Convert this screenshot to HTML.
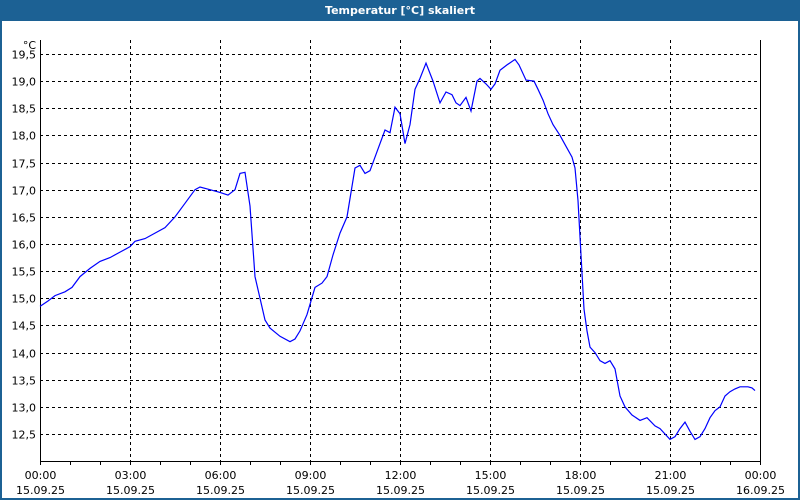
<!DOCTYPE html>
<html><head><meta charset="utf-8"><style>
html,body{margin:0;padding:0;background:#fff}
svg{display:block}
text{font-family:"DejaVu Sans","Liberation Sans",sans-serif;font-size:11px;fill:#000}
</style></head><body>
<svg id="s" width="800" height="500" xmlns="http://www.w3.org/2000/svg">
<rect x="0" y="0" width="800" height="500" fill="#1c6194"/>
<rect x="2" y="21" width="796" height="477" fill="#fff"/>
<text x="400" y="14" text-anchor="middle" style="fill:#fff;font-weight:bold;font-size:11px">Temperatur [°C] skaliert</text>
<g id="g"></g>
</svg>
<script>
var g=document.getElementById('g'),h='';
function Y(v){return 54+(19.5-v)*380/7;}
for(var i=0;i<15;i++){var v=12.5+i*0.5,y=Math.round(Y(v))+0.5;
h+='<line x1="40" x2="760" y1="'+y+'" y2="'+y+'" stroke="#000" stroke-dasharray="3,3"/>';
h+='<text x="36" y="'+(y+4)+'" text-anchor="end">'+v.toFixed(1).replace('.',',')+'</text>';}
h+='<text x="36" y="49" text-anchor="end">°C</text>';
var lab=['00:00','03:00','06:00','09:00','12:00','15:00','18:00','21:00','00:00'];
for(var i=0;i<=8;i++){var x=40+i*90+0.5;
if(i>0&&i<8)h+='<line x1="'+x+'" x2="'+x+'" y1="40" y2="461" stroke="#000" stroke-dasharray="3,3"/>';
h+='<text x="'+x+'" y="479" text-anchor="middle">'+lab[i]+'</text>';
h+='<text x="'+x+'" y="494" text-anchor="middle">'+(i==8?'16.09.25':'15.09.25')+'</text>';}
for(var i=0;i<=24;i++){var x=40+i*30+0.5;h+='<line x1="'+x+'" x2="'+x+'" y1="461" y2="465" stroke="#000"/>';}
h+='<path d="M40.5 40V461.5H760.5V40" fill="none" stroke="#000"/>';
var d=[[40,14.85],[48,14.95],[55,15.05],[65,15.12],[72,15.2],[80,15.4],[90,15.55],[100,15.68],[110,15.75],[120,15.85],[130,15.95],[135,16.05],[145,16.1],[155,16.2],[165,16.3],[175,16.5],[185,16.75],[195,17.0],[200,17.05],[210,17.0],[220,16.95],[228,16.9],[235,17.0],[240,17.3],[245,17.32],[250,16.7],[255,15.4],[260,15.0],[265,14.6],[270,14.45],[280,14.3],[290,14.2],[295,14.25],[300,14.4],[307,14.7],[315,15.2],[322,15.28],[327,15.4],[333,15.8],[340,16.2],[347,16.5],[355,17.4],[360,17.45],[365,17.3],[370,17.35],[377,17.7],[385,18.1],[390,18.05],[395,18.52],[400,18.4],[405,17.85],[410,18.2],[415,18.85],[420,19.05],[426,19.33],[433,19.0],[440,18.6],[446,18.8],[452,18.75],[456,18.6],[460,18.55],[466,18.7],[471,18.45],[477,19.0],[480,19.05],[486,18.95],[491,18.85],[495,18.95],[500,19.2],[507,19.3],[515,19.4],[519,19.3],[526,19.02],[534,19.0],[538,18.85],[543,18.65],[548,18.4],[553,18.2],[560,18.0],[566,17.8],[572,17.6],[575,17.4],[578,16.8],[581,15.8],[584,14.8],[587,14.4],[590,14.1],[595,14.0],[600,13.85],[605,13.8],[610,13.85],[615,13.7],[620,13.2],[625,13.0],[632,12.85],[640,12.75],[647,12.8],[655,12.65],[660,12.6],[665,12.5],[670,12.4],[675,12.45],[680,12.6],[685,12.72],[690,12.55],[695,12.4],[700,12.45],[705,12.6],[710,12.8],[715,12.93],[720,13.0],[725,13.2],[730,13.28],[735,13.33],[740,13.37],[748,13.37],[752,13.35],[755,13.3]];
var p='';d.forEach(function(q,i){p+=(i?'L':'M')+q[0]+' '+Y(q[1]).toFixed(1);});
h+='<path d="'+p+'" fill="none" stroke="#0000ff" stroke-width="1.2"/>';
g.innerHTML=h;
</script>
</body></html>
